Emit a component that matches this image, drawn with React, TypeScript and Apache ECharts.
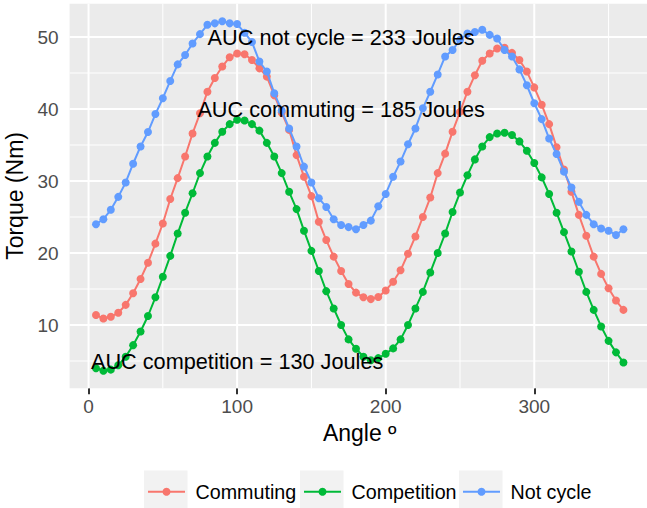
import React, { useEffect, useRef } from "react";
import * as echarts from "echarts";

// Crank angle (degrees) at which torque was sampled
const angles = [
  5, 10, 15, 20, 25, 30, 35, 40, 45, 50, 55, 60, 65, 70, 75, 80, 85, 90,
  95, 100, 105, 110, 115, 120, 125, 130, 135, 140, 145, 150, 155, 160, 165, 170, 175, 180,
  185, 190, 195, 200, 205, 210, 215, 220, 225, 230, 235, 240, 245, 250, 255, 260, 265, 270,
  275, 280, 285, 290, 295, 300, 305, 310, 315, 320, 325, 330, 335, 340, 345, 350, 355, 360,
];

// Torque (Nm) per condition
const commuting = [
  11.4, 10.9, 11.15, 11.7, 12.8, 14.4, 16.4, 18.65, 21.3, 24.1, 27.5, 30.4, 33.4, 36.6, 39.4, 42.4, 44.3, 45.9,
  47.2, 47.7, 47.6, 46.8, 45.65, 44.5, 41.9, 39.5, 37.1, 33.6, 30.6, 27.9, 24.35, 21.8, 19.5, 17.5, 15.7, 14.5,
  13.85, 13.6, 13.9, 14.8, 16.0, 17.6, 19.9, 22.3, 25.0, 27.7, 31.1, 33.8, 36.85, 39.6, 42.4, 44.7, 46.7, 47.7,
  48.4, 48.5, 47.8, 46.8, 45.2, 43.0, 40.6, 37.9, 34.7, 31.6, 28.5, 25.3, 22.4, 19.5, 17.1, 15.1, 13.4, 12.1,
];

const competition = [
  4.0, 3.65, 3.8, 4.4, 5.6, 7.2, 9.1, 11.25, 13.85, 16.7, 19.6, 22.7, 25.6, 28.3, 31.1, 33.4, 35.3, 36.85,
  37.9, 38.5, 38.4, 37.9, 37.0, 35.3, 33.4, 31.1, 28.5, 26.1, 23.1, 20.3, 17.5, 14.7, 12.3, 10.0, 8.0, 6.7,
  5.6, 5.1, 5.4, 6.0, 6.75, 8.0, 10.0, 12.3, 14.6, 17.3, 20.0, 22.7, 25.7, 28.4, 30.8, 33.0, 34.8, 36.1,
  36.6, 36.7, 36.4, 35.5, 34.2, 32.5, 30.5, 28.2, 25.6, 22.9, 20.2, 17.4, 14.6, 12.1, 9.8, 7.8, 6.2, 4.8,
];

const notCycle = [
  24.0, 24.7, 26.0, 27.8, 29.8, 32.4, 34.8, 36.8, 39.3, 41.5, 43.9, 46.2, 47.5, 49.1, 50.4, 51.7, 51.9, 52.2,
  51.9, 51.8, 50.6, 49.3, 46.6, 45.2, 42.2, 39.8, 37.3, 34.8, 32.0, 29.8, 27.6, 26.4, 24.7, 23.9, 23.6, 23.3,
  23.9, 24.5, 26.5, 28.2, 30.6, 32.7, 35.1, 37.3, 40.1, 42.4, 44.8, 47.3, 48.2, 49.6, 50.5, 50.7, 51.0, 50.3,
  49.8, 48.2, 47.3, 45.5, 43.3, 40.8, 38.6, 35.9, 33.75, 31.3, 29.1, 27.1, 25.3, 24.0, 23.4, 23.1, 22.5, 23.3,
];

const seriesNames = ["Commuting", "Competition", "Not cycle"];
const seriesColors = ["#F8766D", "#00BA38", "#619CFF"];
const seriesValues = [commuting, competition, notCycle];

// Axis breaks
const xBreaks = [0, 100, 200, 300];
const xMinorBreaks = [50, 150, 250, 350];
const yBreaks = [10, 20, 30, 40, 50];
const yMinorBreaks = [5, 15, 25, 35, 45];

// Area-under-curve annotations
const noteAngle = [170, 170, 100];
const noteTorque = [50, 40, 5];
const noteText = [
  "AUC not cycle = 233 Joules",
  "AUC commuting = 185 Joules",
  "AUC competition = 130 Joules",
];

const FONT = "'Liberation Sans', Arial, Helvetica, sans-serif";

// 5% padding around the data range on each axis
function paddedRange(values: number[]): [number, number] {
  const lo = Math.min(...values);
  const hi = Math.max(...values);
  const pad = (hi - lo) * 0.05;
  return [lo - pad, hi + pad];
}

export default function App() {
  const ref = useRef<HTMLDivElement>(null);

  useEffect(() => {
    if (!ref.current) return;
    const chart = echarts.init(ref.current, null, { renderer: "svg" });

    const [xMin, xMax] = paddedRange(angles);
    const [yMin, yMax] = paddedRange([...commuting, ...competition, ...notCycle]);

    // gridline rows: [orientation (0 = vertical, 1 = horizontal), value, major flag]
    const gridRows: number[][] = [
      ...xMinorBreaks.map((v) => [0, v, 0]),
      ...yMinorBreaks.map((v) => [1, v, 0]),
      ...xBreaks.map((v) => [0, v, 1]),
      ...yBreaks.map((v) => [1, v, 1]),
    ];

    const lineSeries = seriesNames.map((name, i) => ({
      name,
      type: "line",
      data: angles.map((a, j) => [a, seriesValues[i][j]]),
      symbol: "circle",
      symbolSize: 8,
      showSymbol: true,
      lineStyle: { color: seriesColors[i], width: 2 },
      itemStyle: { color: seriesColors[i] },
      z: 3 + i,
      silent: true,
      clip: true,
    }));

    const legendKeyX = [144, 300, 459];
    const legendY = 491.7;
    const legendGraphics: any[] = [];
    seriesNames.forEach((name, i) => {
      const kx = legendKeyX[i];
      legendGraphics.push(
        {
          type: "rect",
          shape: { x: kx, y: 470.5, width: 43.5, height: 43 },
          style: { fill: "#F2F2F2" },
        },
        {
          type: "line",
          shape: { x1: kx + 4, y1: legendY, x2: kx + 41, y2: legendY },
          style: { stroke: seriesColors[i], lineWidth: 2 },
        },
        {
          type: "circle",
          shape: { cx: kx + 22.5, cy: legendY, r: 4 },
          style: { fill: seriesColors[i] },
        },
        {
          type: "text",
          x: kx + 51.5,
          y: legendY + 0.5,
          style: {
            text: name,
            fill: "#000",
            fontSize: 19.7,
            fontFamily: FONT,
            verticalAlign: "middle",
            align: "left",
          },
        }
      );
    });

    chart.setOption({
      animation: false,
      textStyle: { fontFamily: FONT },
      grid: {
        left: 69.6,
        top: 3.7,
        width: 580.2,
        height: 384.5,
        show: true,
        backgroundColor: "#EBEBEB",
        borderWidth: 0,
        containLabel: false,
        outerBoundsMode: "none",
      },
      xAxis: {
        type: "value",
        min: xMin,
        max: xMax,
        axisLine: { show: false },
        splitLine: { show: false },
        axisTick: {
          show: true,
          customValues: xBreaks,
          length: 6,
          lineStyle: { color: "#333333", width: 2 },
        },
        axisLabel: {
          customValues: xBreaks,
          color: "#4D4D4D",
          fontSize: 19,
          fontFamily: FONT,
          margin: 9,
        },
        name: "Angle º",
        nameLocation: "middle",
        nameGap: 29,
        nameTextStyle: { color: "#000", fontSize: 23, fontFamily: FONT },
      },
      yAxis: {
        type: "value",
        min: yMin,
        max: yMax,
        axisLine: { show: false },
        splitLine: { show: false },
        axisTick: {
          show: true,
          customValues: yBreaks,
          length: 6,
          lineStyle: { color: "#333333", width: 2 },
        },
        axisLabel: {
          customValues: yBreaks,
          color: "#4D4D4D",
          fontSize: 19,
          fontFamily: FONT,
          margin: 11,
        },
        name: "Torque (Nm)",
        nameLocation: "middle",
        nameGap: 38,
        nameTextStyle: { color: "#000", fontSize: 23, fontFamily: FONT },
      },
      series: [
        {
          type: "custom",
          silent: true,
          z: 1,
          data: gridRows,
          renderItem: (params: any, api: any) => {
            const cs = params.coordSys;
            const kind = api.value(0);
            const v = api.value(1);
            const major = api.value(2) === 1;
            const width = major ? 2 : 1;
            if (kind === 0) {
              const p = api.coord([v, (yMin + yMax) / 2]);
              return {
                type: "line",
                shape: { x1: p[0], y1: cs.y, x2: p[0], y2: cs.y + cs.height },
                style: { stroke: "#FFFFFF", lineWidth: width },
              };
            }
            const p = api.coord([(xMin + xMax) / 2, v]);
            return {
              type: "line",
              shape: { x1: cs.x, y1: p[1], x2: cs.x + cs.width, y2: p[1] },
              style: { stroke: "#FFFFFF", lineWidth: width },
            };
          },
        },
        ...lineSeries,
        {
          type: "custom",
          silent: true,
          z: 10,
          data: noteAngle.map((a, i) => [a, noteTorque[i], i]),
          renderItem: (_params: any, api: any) => {
            const p = api.coord([api.value(0), api.value(1)]);
            return {
              type: "text",
              x: p[0],
              y: p[1],
              style: {
                text: noteText[api.value(2)],
                fill: "#000",
                fontSize: 21.7,
                fontFamily: FONT,
                align: "center",
                verticalAlign: "middle",
              },
            };
          },
        },
      ],
      graphic: legendGraphics,
    });

    return () => chart.dispose();
  }, []);

  return (
    <div
      ref={ref}
      style={{ position: "fixed", left: 0, top: 0, width: 647, height: 508, background: "#fff" }}
    />
  );
}
